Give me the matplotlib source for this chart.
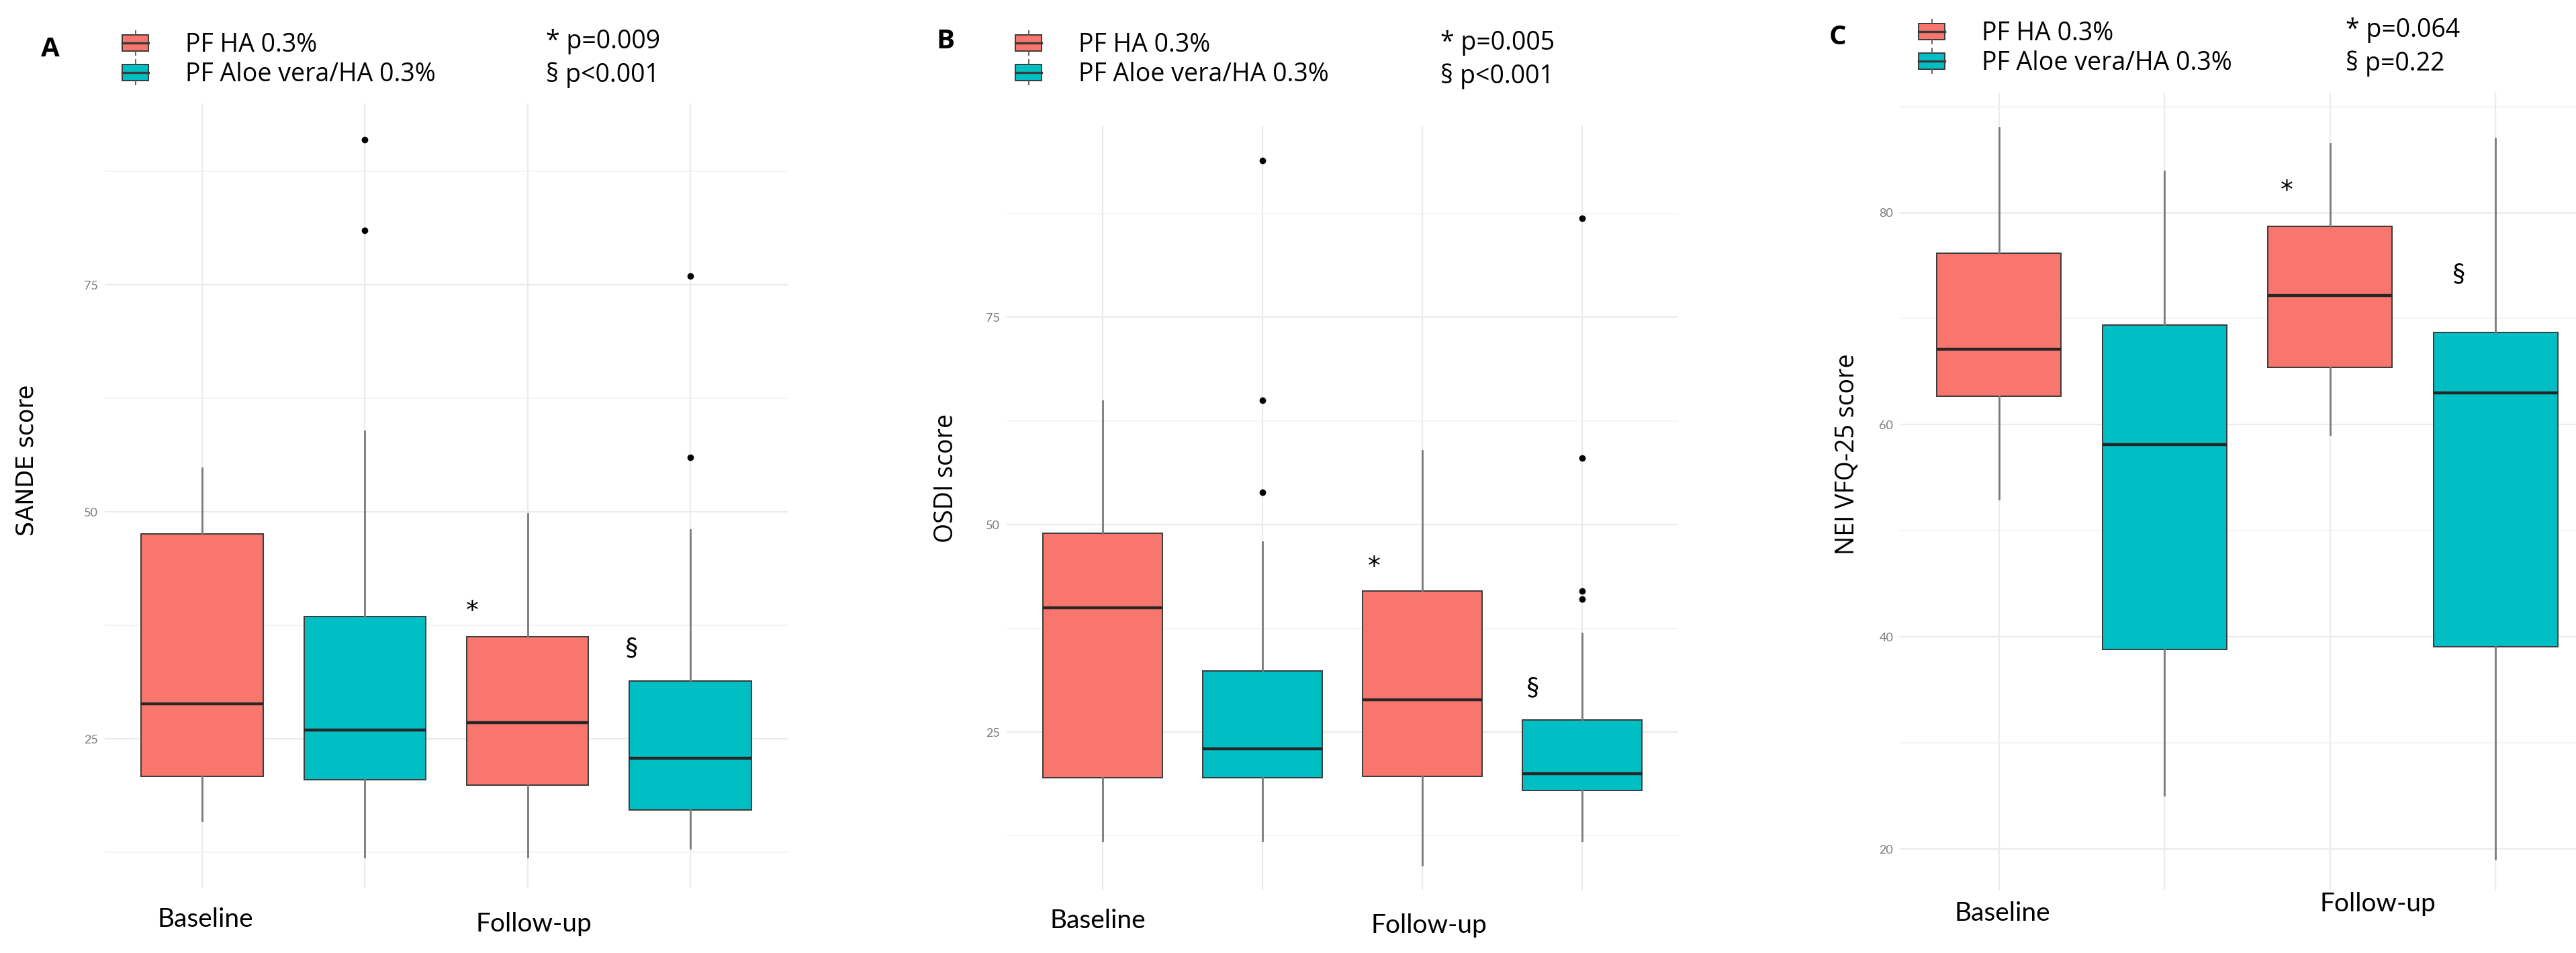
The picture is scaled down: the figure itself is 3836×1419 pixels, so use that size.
import matplotlib
matplotlib.use("Agg")
import matplotlib.pyplot as plt
from matplotlib.patches import Patch, Rectangle
from matplotlib.lines import Line2D
from matplotlib.legend_handler import HandlerBase
from matplotlib.ticker import FixedLocator
import matplotlib.transforms as mtransforms


# =========================
# DATA
# =========================
groups = ["PF HA 0.3%", "PF Aloe vera/HA 0.3%"]
timepoints = ["Baseline", "Follow-up"]

# box order: baseline HA, baseline AV/HA, follow-up HA, follow-up AV/HA
sande_q1 = [20.9, 20.5, 19.9, 17.2]
sande_med = [28.9, 26.0, 26.8, 22.9]
sande_q3 = [47.6, 38.5, 36.3, 31.4]
sande_lo = [16.0, 12.0, 12.0, 13.0]
sande_hi = [54.8, 58.9, 49.8, 48.0]
sande_out = [[], [91.0, 81.0], [], [76.0, 56.0]]
sande_p = ["* p=0.009", "§ p<0.001"]

osdi_q1 = [19.5, 19.5, 19.7, 18.0]
osdi_med = [40.0, 23.0, 28.9, 20.0]
osdi_q3 = [49.0, 32.4, 42.0, 26.5]
osdi_lo = [11.9, 11.9, 9.0, 11.9]
osdi_hi = [64.9, 47.9, 58.9, 36.9]
osdi_out = [[], [93.9, 65.0, 53.9], [], [86.9, 58.0, 42.0, 41.0]]
osdi_p = ["* p=0.005", "§ p<0.001"]

vfq_q1 = [62.7, 38.8, 65.4, 39.1]
vfq_med = [67.1, 58.1, 72.2, 63.0]
vfq_q3 = [76.2, 69.4, 78.7, 68.7]
vfq_lo = [53.0, 25.1, 59.1, 19.1]
vfq_hi = [88.0, 83.9, 86.5, 87.0]
vfq_out = [[], [], [], []]
vfq_p = ["* p=0.064", "§ p=0.22"]


# =========================
# STYLE
# =========================
W, H = 3837, 1419
PINK = "#F8766D"
TEAL = "#00BFC4"
EDGE = "#3a3a3a"
WHISK = "#7a7a7a"
GRID = "#EBEBEB"
FONT = "Open Sans"
XFONT = "Lato"

plt.rcParams["font.family"] = [FONT, "DejaVu Sans"]


class BoxKey(HandlerBase):
    # ggplot-like boxplot legend key
    def create_artists(self, legend, orig_handle, xdescent, ydescent,
                       width, height, fontsize, trans):
        x0, y0 = -xdescent, -ydescent
        cx = x0 + width / 2
        bot, top = y0 + 0.05 * height, y0 + 0.95 * height
        box = Rectangle((x0, bot), width, top - bot,
                        facecolor=orig_handle.get_facecolor(), edgecolor=EDGE,
                        lw=1.4, transform=trans)
        med = Line2D([x0, x0 + width], [y0 + height / 2] * 2, color=EDGE,
                     lw=2.4, transform=trans)
        w1 = Line2D([cx, cx], [top, top + 0.25 * height],
                    color="#555555", lw=1.3, transform=trans)
        w2 = Line2D([cx, cx], [bot - 0.25 * height, bot],
                    color="#555555", lw=1.3, transform=trans)
        return [box, med, w1, w2]


def px_axes(fig, x0, y0, x1, y1):
    return fig.add_axes([x0 / W, 1 - y1 / H, (x1 - x0) / W, (y1 - y0) / H])


def draw_panel(fig, rect, q1, med, q3, lo, hi, out, ylim, majors, minors,
               ylabel, ylab_pos, ylab_font, xlab_pos, star, sect):
    ax = px_axes(fig, *rect)
    stats = []
    for i in range(4):
        stats.append(dict(q1=q1[i], med=med[i], q3=q3[i], whislo=lo[i],
                          whishi=hi[i], fliers=out[i]))
    b = ax.bxp(stats, positions=[1, 2, 3, 4], widths=0.75, patch_artist=True,
               showcaps=False,
               boxprops=dict(edgecolor=EDGE, lw=1.4),
               medianprops=dict(color="#262626", lw=3.2, solid_capstyle="butt"),
               whiskerprops=dict(color=WHISK, lw=2.0),
               flierprops=dict(marker="o", markerfacecolor="black",
                               markeredgecolor="black", markersize=6))
    for patch, c in zip(b["boxes"], [PINK, TEAL, PINK, TEAL]):
        patch.set_facecolor(c)

    ax.set_xlim(0.4, 4.6)
    ax.set_ylim(*ylim)
    ax.set_xticks([1, 2, 3, 4])
    ax.set_xticklabels([])
    ax.set_yticks(majors)
    ax.set_yticklabels([str(v) for v in majors], fontsize=13,
                       color="#7a7a7a", family=XFONT)
    ax.yaxis.set_minor_locator(FixedLocator(minors))
    ax.tick_params(length=0, pad=7)
    ax.tick_params(which="minor", length=0)
    ax.grid(True, which="major", color=GRID, lw=1.6)
    ax.grid(True, which="minor", axis="y", color="#F2F2F2", lw=1.2)
    ax.set_axisbelow(True)
    for s in ax.spines.values():
        s.set_visible(False)

    ax.set_ylabel(ylabel, fontsize=ylab_font[1], family=ylab_font[0])
    ax.yaxis.label.set_va("center")
    ax.yaxis.set_label_coords(*ylab_pos)

    trans = mtransforms.blended_transform_factory(ax.transData, ax.transAxes)
    for lab, (xp, yp) in zip(timepoints, xlab_pos):
        ax.text(xp, yp, lab, transform=trans, ha="center", va="baseline",
                fontsize=28, family=XFONT)

    ax.text(star[0], star[1], "*", ha="center", va="center", fontsize=27,
            family="DejaVu Sans")
    ax.text(sect[0], sect[1], "§", ha="center", va="center", fontsize=28,
            family=XFONT)
    return ax


def draw_header(fig, letter, letter_xy, key_xy, ptext, p_xy):
    fig.text(letter_xy[0] / W, 1 - letter_xy[1] / H, letter, fontsize=29,
             fontweight="bold", ha="center", va="center")
    handles = [Patch(facecolor=PINK), Patch(facecolor=TEAL)]
    fig.legend(handles, groups, handler_map={Patch: BoxKey()},
               loc="center left",
               bbox_to_anchor=(key_xy[0] / W, 1 - key_xy[1] / H),
               frameon=False, fontsize=27, handlelength=1.05,
               handleheight=0.7, handletextpad=1.45, labelspacing=0.15,
               borderpad=0, borderaxespad=0)
    for i, t in enumerate(ptext):
        fig.text(p_xy[0] / W, 1 - (p_xy[1] + i * 50) / H, t, fontsize=27,
                 ha="left", va="center")


# =========================
# FIGURE
# =========================
fig = plt.figure(figsize=(W / 100, H / 100), dpi=100)
fig.patch.set_facecolor("white")

# A - SANDE
draw_panel(fig, (156, 154, 1173, 1322), sande_q1, sande_med, sande_q3,
           sande_lo, sande_hi, sande_out, (8.6, 95.0), [25, 50, 75],
           [12.5, 37.5, 62.5, 87.5], "SANDE score", (-0.115, 0.545),
           ("DejaVu Sans", 25),
           [(1.02, -0.050), (3.04, -0.056)], (2.66, 39.0), (3.64, 35.0))
draw_header(fig, "A", (75, 74), (182, 89), sande_p, (813, 62))

# B - OSDI
draw_panel(fig, (1499, 187, 2499, 1326), osdi_q1, osdi_med, osdi_q3,
           osdi_lo, osdi_hi, osdi_out, (5.9, 98.1), [25, 50, 75],
           [12.5, 37.5, 62.5, 87.5], "OSDI score", (-0.090, 0.539),
           (FONT, 27),
           [(0.97, -0.049), (3.04, -0.055)], (2.70, 44.8), (3.69, 30.3))
draw_header(fig, "B", (1408, 62), (1512, 89), osdi_p, (2145, 64))

# C - NEI VFQ-25
draw_panel(fig, (2829, 138, 3864, 1326), vfq_q1, vfq_med, vfq_q3,
           vfq_lo, vfq_hi, vfq_out, (16.1, 91.3), [20, 40, 60, 80],
           [30, 50, 70, 90], "NEI VFQ-25 score", (-0.075, 0.547),
           (FONT, 27),
           [(1.02, -0.038), (3.29, -0.026)], (2.74, 82.0), (3.78, 74.2))
draw_header(fig, "C", (2736, 56), (2857, 72), vfq_p, (3493, 45))

fig.savefig("out.png", dpi=100, facecolor="white")
